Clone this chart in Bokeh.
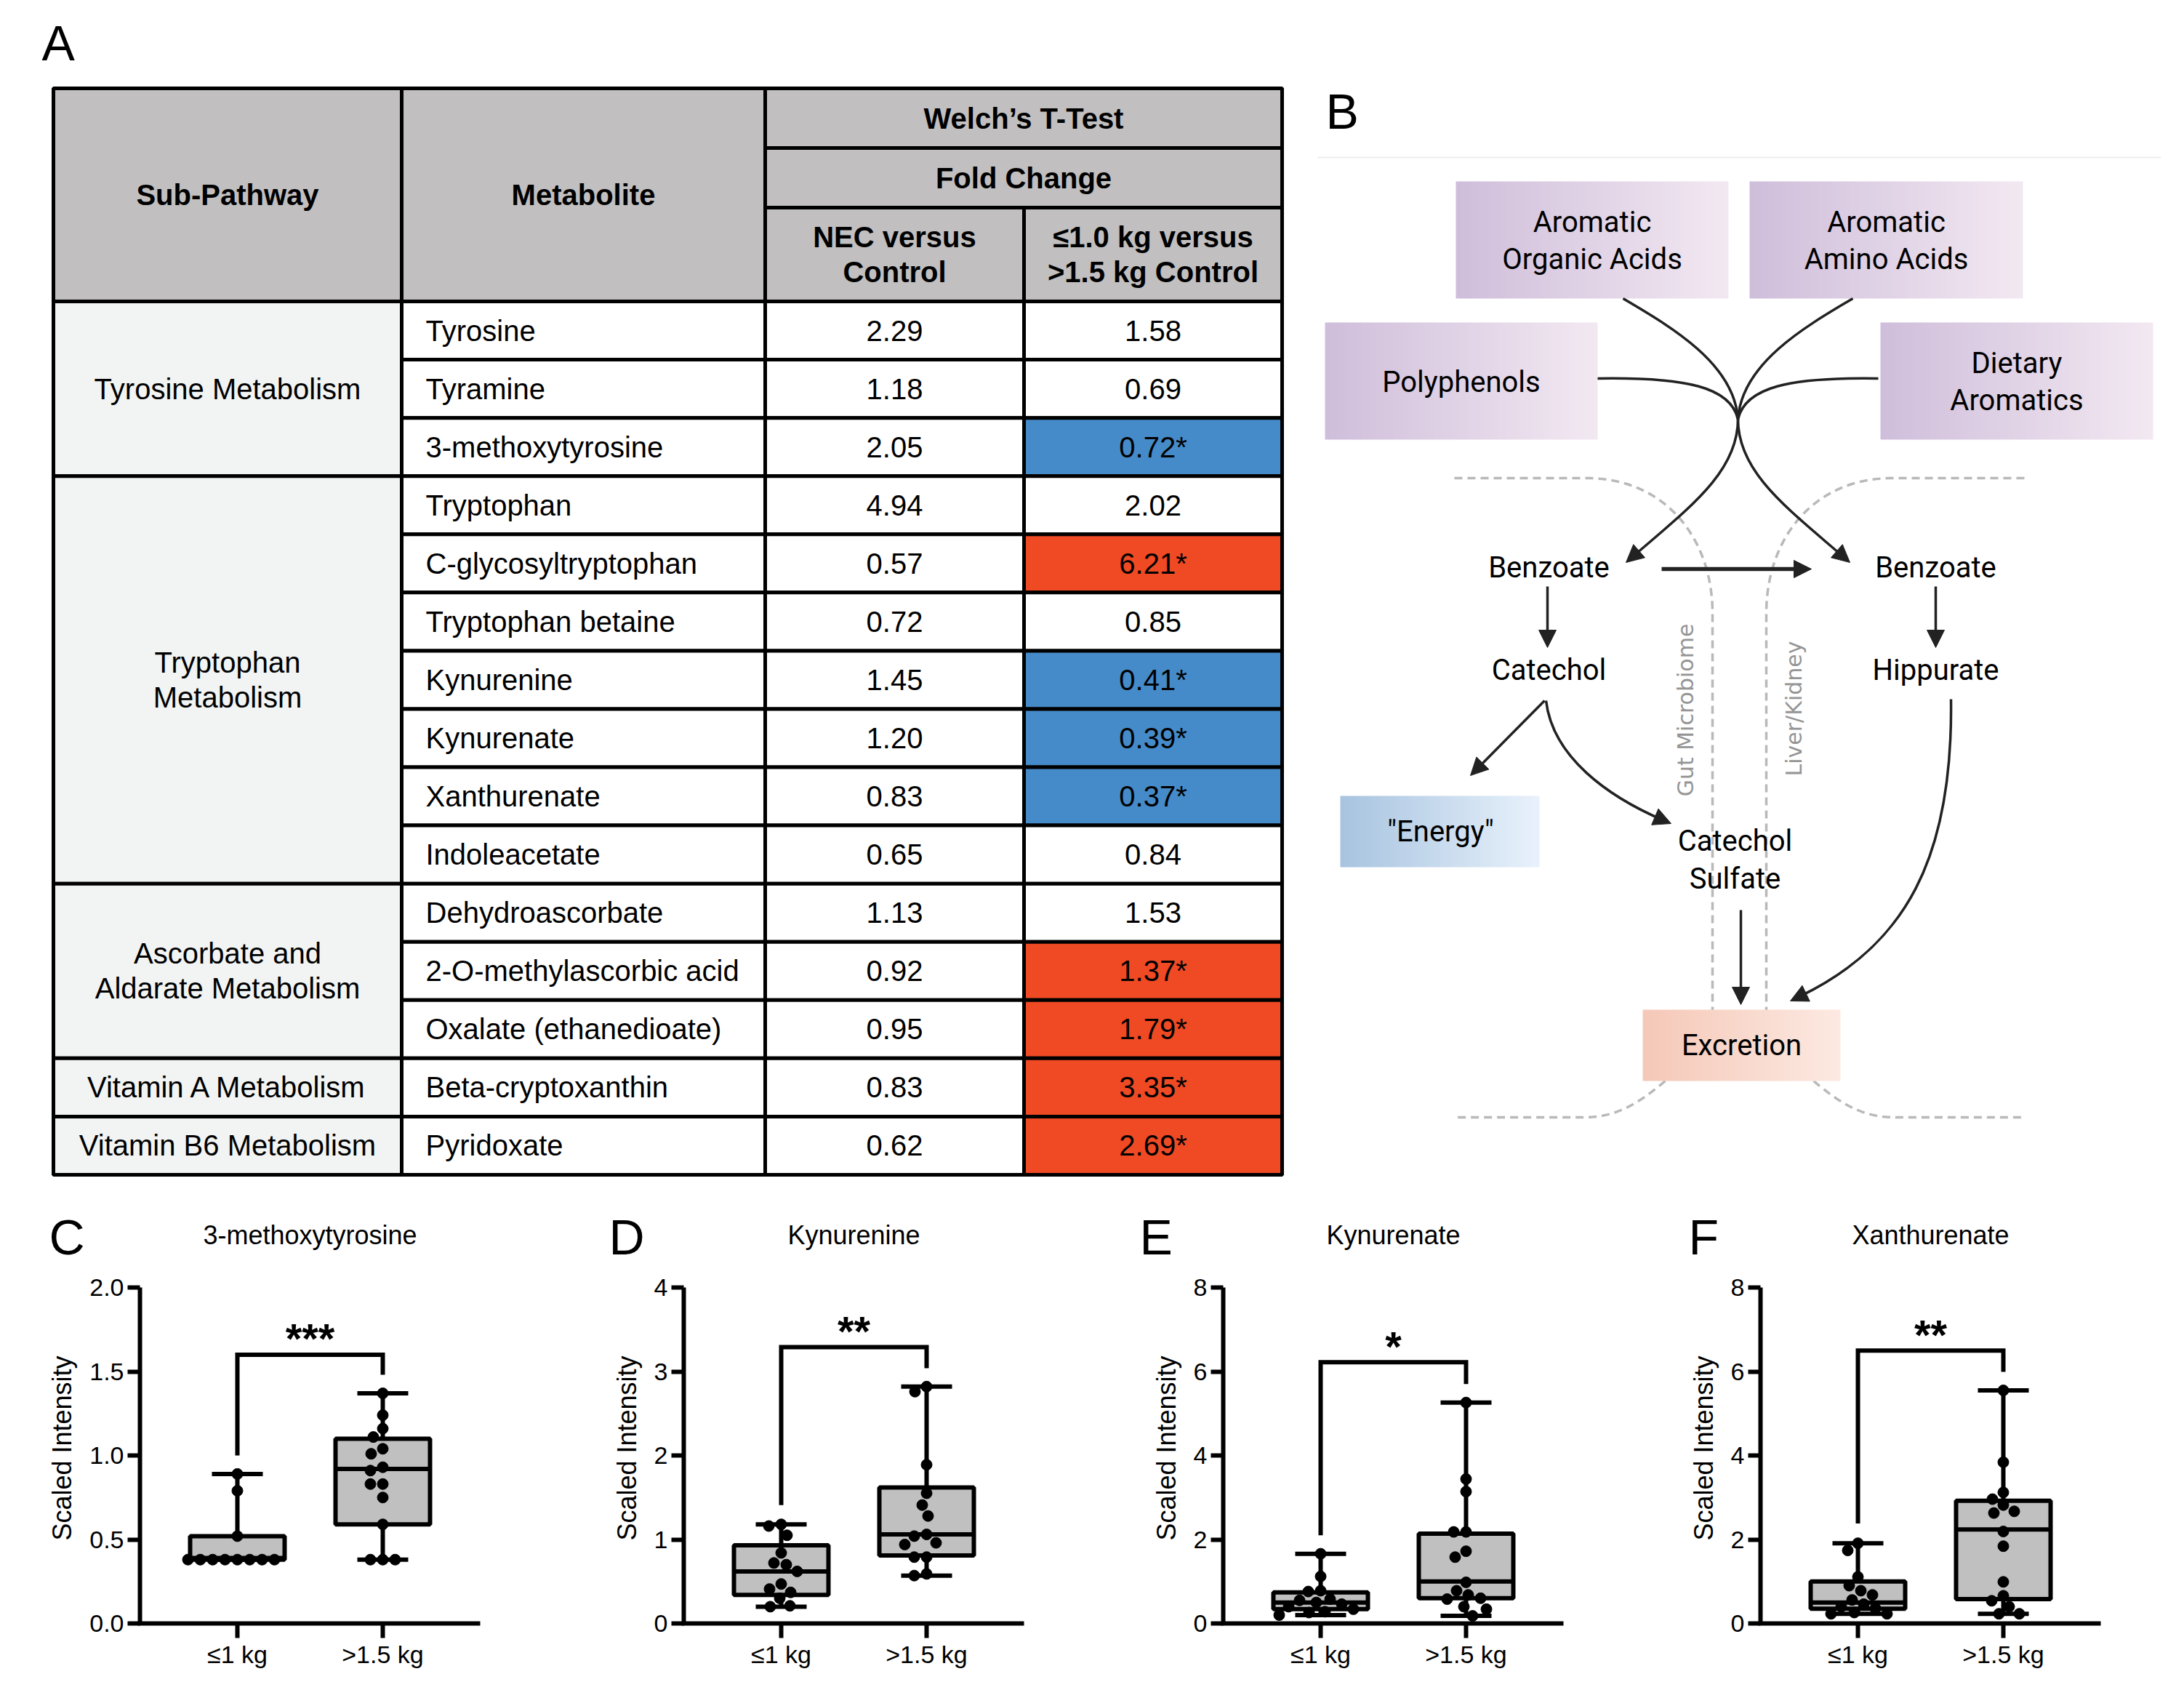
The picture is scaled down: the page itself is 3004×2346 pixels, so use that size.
import numpy as np
from bokeh.plotting import figure
from bokeh.models import Range1d, FixedTicker, Arrow, NormalHead, NumeralTickFormatter
from bokeh.layouts import column, row
from bokeh.embed import file_html
from bokeh.resources import INLINE
from bokeh.core.properties import value

# ===================== DATA =====================
# ---- Panel A: table ----
header_left = ["Sub-Pathway", "Metabolite"]
header_test = "Welch\u2019s T-Test"
header_fold = "Fold Change"
header_comparisons = ["NEC versus\nControl", "\u22641.0 kg versus\n>1.5 kg Control"]
sub_pathways = ["Tyrosine Metabolism", "Tryptophan\nMetabolism",
                "Ascorbate and\nAldarate Metabolism", "Vitamin A Metabolism",
                "Vitamin B6 Metabolism"]
sub_pathway_sizes = [3, 7, 3, 1, 1]
metabolites = ["Tyrosine", "Tyramine", "3-methoxytyrosine", "Tryptophan",
               "C-glycosyltryptophan", "Tryptophan betaine", "Kynurenine",
               "Kynurenate", "Xanthurenate", "Indoleacetate", "Dehydroascorbate",
               "2-O-methylascorbic acid", "Oxalate (ethanedioate)",
               "Beta-cryptoxanthin", "Pyridoxate"]
fc_nec_vs_control = [2.29, 1.18, 2.05, 4.94, 0.57, 0.72, 1.45, 1.20, 0.83, 0.65,
                     1.13, 0.92, 0.95, 0.83, 0.62]
fc_lbw_vs_control = [1.58, 0.69, 0.72, 2.02, 6.21, 0.85, 0.41, 0.39, 0.37, 0.84,
                     1.53, 1.37, 1.79, 3.35, 2.69]
fc_lbw_significant = [False, False, True, False, True, False, True, True, True, False,
                      False, True, True, True, True]

# ---- Panel B: pathway diagram labels ----
source_labels = ["Aromatic\nOrganic Acids", "Aromatic\nAmino Acids", "Polyphenols",
                 "Dietary\nAromatics"]
node_labels = ["Benzoate", "Benzoate", "Catechol", "Hippurate", "Catechol\nSulfate"]
energy_label = "\"Energy\""
excretion_label = "Excretion"
compartment_labels = ["Gut Microbiome", "Liver/Kidney"]

# ---- Panels C-F: box plots ----
panel_letters = ["C", "D", "E", "F"]
panel_titles = ["3-methoxytyrosine", "Kynurenine", "Kynurenate", "Xanthurenate"]
group_labels = ["\u22641 kg", ">1.5 kg"]
y_label = "Scaled Intensity"

mt_low = [0.38, 0.38, 0.38, 0.38, 0.38, 0.38, 0.38, 0.38, 0.52, 0.79, 0.89]
mt_high = [1.37, 1.24, 1.16, 1.11, 1.04, 1.01, 0.93, 0.91, 0.83, 0.83, 0.75, 0.59, 0.38, 0.38, 0.38]
kyn_low = [1.18, 1.16, 1.05, 0.84, 0.72, 0.70, 0.62, 0.47, 0.41, 0.37, 0.30, 0.21, 0.20]
kyn_high = [2.82, 2.76, 1.89, 1.55, 1.41, 1.28, 1.06, 1.04, 0.96, 0.94, 0.79, 0.79, 0.59, 0.57]
kna_low = [1.66, 1.12, 0.78, 0.76, 0.58, 0.55, 0.50, 0.46, 0.40, 0.34, 0.28, 0.26, 0.20]
kna_high = [5.26, 3.44, 3.14, 2.18, 2.18, 1.72, 1.58, 0.98, 0.78, 0.68, 0.60, 0.58, 0.40, 0.34, 0.18]
xa_low = [1.91, 1.74, 1.11, 0.90, 0.78, 0.68, 0.56, 0.46, 0.40, 0.36, 0.26, 0.23, 0.23]
xa_high = [5.55, 3.84, 3.12, 2.96, 2.82, 2.67, 2.63, 2.19, 1.84, 0.99, 0.66, 0.54, 0.40, 0.23, 0.23]

# quartiles (q1, median, q3)
mt_box = [(0.38, 0.39, 0.52), (0.59, 0.92, 1.10)]
kyn_box = [(0.34, 0.62, 0.93), (0.81, 1.06, 1.62)]
kna_box = [(0.34, 0.50, 0.74), (0.60, 1.00, 2.14)]
xa_box = [(0.35, 0.50, 1.00), (0.58, 2.24, 2.92)]

y_ticks = [[0, 0.5, 1.0, 1.5, 2.0], [0, 1, 2, 3, 4], [0, 2, 4, 6, 8], [0, 2, 4, 6, 8]]
# significance brackets: (top, left leg end, right leg end)
brackets = [(1.60, 1.00, 1.48), (3.29, 1.41, 3.04), (6.22, 2.10, 5.70), (6.50, 2.38, 5.99)]
stars = ["***", "**", "*", "**"]

panel_groups = [(mt_low, mt_high), (kyn_low, kyn_high), (kna_low, kna_high), (xa_low, xa_high)]
panel_boxes = [mt_box, kyn_box, kna_box, xa_box]

# ===================== STYLE / LAYOUT =====================
FONT = "Liberation Sans"
DFONT = "Roboto"
INK = "#222222"
TOTAL_W = 2988
TOTAL_H = 2330
TOP_H = 1750
BOT_H = TOTAL_H - TOP_H

def lerp_colors(c0, c1, n):
    out = []
    for k in range(n):
        t = k / (n - 1)
        r, g, b = [int(round(a + (bb - a) * t)) for a, bb in zip(c0, c1)]
        out.append("#%02x%02x%02x" % (r, g, b))
    return out

def bez(p0, p1, p2, p3, n=60):
    t = np.linspace(0, 1, n)[:, None]
    P = ((1 - t) ** 3) * np.array(p0) + 3 * ((1 - t) ** 2) * t * np.array(p1) \
        + 3 * (1 - t) * t ** 2 * np.array(p2) + t ** 3 * np.array(p3)
    return P[:, 0], P[:, 1]

# ===================== TOP FIGURE (A + B + panel headings) =====================
top = figure(width=TOTAL_W, height=TOP_H, x_range=Range1d(0, TOTAL_W),
             y_range=Range1d(TOP_H, 0), output_backend="svg",
             toolbar_location=None, min_border=0, x_axis_location=None,
             y_axis_location=None)
top.grid.visible = False
top.outline_line_color = None

def ttext(x, y, s, size="40px", align="center", baseline="middle", style="normal",
          font=FONT, color="black", angle=0.0, lh=1.1):
    top.text(x=[x], y=[y], text=[s], text_font=value(font), text_font_size=size,
             text_align=align, text_baseline=baseline, text_font_style=style,
             text_color=color, angle=angle, text_line_height=lh)

# ---- table ----
col_x = [73, 552, 1052, 1408, 1763]
hdr_y = [121, 203, 285, 414]
tbl_bottom = 1615
n_rows = len(metabolites)
row_h = (tbl_bottom - hdr_y[3]) / n_rows
HDR = "#c1bfc0"
SUB = "#f2f4f3"
BLUE = "#468bc9"
RED = "#ef4a24"
LW = 5

hl = [col_x[0], col_x[1], col_x[2], col_x[2], col_x[2], col_x[3]]
hr = [col_x[1], col_x[2], col_x[4], col_x[4], col_x[3], col_x[4]]
ht = [hdr_y[0], hdr_y[0], hdr_y[0], hdr_y[1], hdr_y[2], hdr_y[2]]
hb = [hdr_y[3], hdr_y[3], hdr_y[1], hdr_y[2], hdr_y[3], hdr_y[3]]
top.quad(left=hl, right=hr, top=ht, bottom=hb, fill_color=HDR, line_color="black", line_width=LW)

starts = np.cumsum([0] + sub_pathway_sizes[:-1])
sp_t = [hdr_y[3] + s * row_h for s in starts]
sp_b = [hdr_y[3] + (s + n) * row_h for s, n in zip(starts, sub_pathway_sizes)]
top.quad(left=col_x[0], right=col_x[1], top=sp_t, bottom=sp_b, fill_color=SUB,
         line_color="black", line_width=LW)

rt = [hdr_y[3] + i * row_h for i in range(n_rows)]
rb = [hdr_y[3] + (i + 1) * row_h for i in range(n_rows)]
for c in (1, 2):
    top.quad(left=col_x[c], right=col_x[c + 1], top=rt, bottom=rb, fill_color="white",
             line_color="black", line_width=LW)
fold_colors = [(BLUE if v < 1 else RED) if s else "white"
               for v, s in zip(fc_lbw_vs_control, fc_lbw_significant)]
top.quad(left=col_x[3], right=col_x[4], top=rt, bottom=rb, fill_color=fold_colors,
         line_color="black", line_width=LW)
top.quad(left=col_x[0], right=col_x[4], top=hdr_y[0], bottom=tbl_bottom, fill_color=None,
         line_color="black", line_width=LW)

ttext((col_x[0] + col_x[1]) / 2, (hdr_y[0] + hdr_y[3]) / 2, header_left[0], style="bold")
ttext((col_x[1] + col_x[2]) / 2, (hdr_y[0] + hdr_y[3]) / 2, header_left[1], style="bold")
ttext((col_x[2] + col_x[4]) / 2, (hdr_y[0] + hdr_y[1]) / 2, header_test, style="bold")
ttext((col_x[2] + col_x[4]) / 2, (hdr_y[1] + hdr_y[2]) / 2, header_fold, style="bold")
ttext((col_x[2] + col_x[3]) / 2, (hdr_y[2] + hdr_y[3]) / 2, header_comparisons[0], style="bold")
ttext((col_x[3] + col_x[4]) / 2, (hdr_y[2] + hdr_y[3]) / 2, header_comparisons[1], style="bold")

rc = [(a + b) / 2 for a, b in zip(rt, rb)]
top.text(x=[col_x[1] + 33] * n_rows, y=rc, text=metabolites, text_font=value(FONT),
         text_font_size="40px", text_align="left", text_baseline="middle")
top.text(x=[(col_x[2] + col_x[3]) / 2] * n_rows, y=rc,
         text=["%.2f" % v for v in fc_nec_vs_control], text_font=value(FONT),
         text_font_size="40px", text_align="center", text_baseline="middle")
top.text(x=[(col_x[3] + col_x[4]) / 2] * n_rows, y=rc,
         text=["%.2f%s" % (v, "*" if s else "") for v, s in zip(fc_lbw_vs_control, fc_lbw_significant)],
         text_font=value(FONT), text_font_size="40px", text_align="center", text_baseline="middle")
top.text(x=[(col_x[0] + col_x[1]) / 2] * len(sub_pathways), y=[(a + b) / 2 for a, b in zip(sp_t, sp_b)],
         text=sub_pathways, text_font=value(FONT), text_font_size="40px",
         text_align="center", text_baseline="middle", text_line_height=1.1)

ttext(57, 58, "A", size="68px", align="left")
ttext(1823, 152, "B", size="68px", align="left")

# ---- diagram ----
top.line(x=[1812, 2972], y=[216, 216], line_color="#eeeeee", line_width=2)

MIRX = 4784
lx1, ly1 = bez((2182, 657), (2290, 657), (2355, 740), (2355, 843))
left_top_x = np.concatenate([[2000], lx1, [2355]])
left_top_y = np.concatenate([[657], ly1, [1392]])
lx2, ly2 = bez((2290, 1486), (2255, 1515), (2225, 1536), (2178, 1536))
left_bot_x = np.concatenate([lx2, [2000]])
left_bot_y = np.concatenate([ly2, [1536]])
DASH_C = "#b9b9b9"
for xs, ys in [(left_top_x, left_top_y), (left_bot_x, left_bot_y)]:
    top.line(x=xs, y=ys, line_color=DASH_C, line_width=3.5, line_dash="11 7")
    top.line(x=MIRX - xs, y=ys, line_color=DASH_C, line_width=3.5, line_dash="11 7")

PURPLE = ((207, 190, 219), (242, 232, 241))
BLUEG = ((168, 196, 224), (232, 241, 251))
PEACH = ((245, 200, 184), (252, 233, 225))

def gradient_box(x0, y0, x1, y1, cols, n=60):
    edges = np.linspace(x0, x1, n + 1)
    top.quad(left=edges[:-1], right=np.minimum(edges[1:] + 0.8, x1), top=y0, bottom=y1,
             fill_color=lerp_colors(cols[0], cols[1], n), line_color=None)

src_boxes = [(2002, 249, 2377, 410), (2406, 249, 2782, 410), (1822, 443, 2197, 604),
             (2586, 443, 2961, 604)]
for (x0, y0, x1, y1), lab in zip(src_boxes, source_labels):
    gradient_box(x0, y0, x1, y1, PURPLE)
    ttext((x0 + x1) / 2, (y0 + y1) / 2 + 1, lab, font=DFONT)
gradient_box(1843, 1094, 2117, 1192, BLUEG)
ttext(1981, 1143, energy_label, font=DFONT)
gradient_box(2259, 1388, 2531, 1486, PEACH)
ttext(2395, 1437, excretion_label, font=DFONT)

node_xy = [(2130, 780), (2662, 780), (2130, 921), (2662, 921), (2386, 1182)]
for (x, y), lab in zip(node_xy, node_labels):
    ttext(x, y, lab, font=DFONT)

ttext(2318, 976, compartment_labels[0], size="30px", font="DejaVu Sans", color="#959595",
      angle=np.pi / 2)
ttext(2467, 974, compartment_labels[1], size="30px", font="DejaVu Sans", color="#959595",
      angle=np.pi / 2)

C = (2390, 576)
curves = [((2232, 410), (2300, 450), (2385, 500), C),
          ((2197, 520), (2320, 518), (2380, 532), C)]
for p0, p1, p2, p3 in curves:
    top.bezier(x0=[p0[0], MIRX - 4 - p0[0]], y0=[p0[1]] * 2, x1=[p3[0], MIRX - 4 - p3[0]], y1=[p3[1]] * 2,
               cx0=[p1[0], MIRX - 4 - p1[0]], cy0=[p1[1]] * 2, cx1=[p2[0], MIRX - 4 - p2[0]], cy1=[p2[1]] * 2,
               line_color=INK, line_width=3.5)

def head(xt, yt, dx, dy, size=24):
    L = np.hypot(dx, dy)
    ux, uy = dx / L, dy / L
    top.add_layout(Arrow(end=NormalHead(size=size, fill_color=INK, line_color=INK, line_width=1),
                         x_start=xt - ux * 6, y_start=yt - uy * 6, x_end=xt, y_end=yt,
                         line_alpha=0.0))

def curved_arrow(p0, p1, p2, p3, lw=3.5):
    top.bezier(x0=[p0[0]], y0=[p0[1]], x1=[p3[0] - (p3[0] - p2[0]) * 0.08],
               y1=[p3[1] - (p3[1] - p2[1]) * 0.08], cx0=[p1[0]], cy0=[p1[1]],
               cx1=[p2[0]], cy1=[p2[1]], line_color=INK, line_width=lw)
    head(p3[0], p3[1], p3[0] - p2[0], p3[1] - p2[1])

curved_arrow(C, (2390, 650), (2320, 700), (2236, 773))
curved_arrow(C, (2390, 650), (MIRX - 4 - 2320, 700), (MIRX - 4 - 2236, 773))
curved_arrow((2126, 963), (2135, 1040), (2210, 1095), (2298, 1132))
curved_arrow((2683, 961), (2686, 1180), (2620, 1300), (2462, 1376))

def straight_arrow(x0, y0, x1, y1, lw=3.5, size=24):
    top.add_layout(Arrow(end=NormalHead(size=size, fill_color=INK, line_color=INK, line_width=1),
                         x_start=x0, y_start=y0, x_end=x1, y_end=y1, line_color=INK,
                         line_width=lw))

straight_arrow(2285, 782, 2491, 782, lw=5.5)
straight_arrow(2128, 806, 2128, 890)
straight_arrow(2662, 806, 2662, 890)
straight_arrow(2124, 963, 2022, 1066)
straight_arrow(2394, 1251, 2394, 1381)

# ===================== BOTTOM PANELS (C-F) =====================
PANEL_W = TOTAL_W // 4
fig_lefts = [i * PANEL_W for i in range(4)]
axis_xs = [192, 940, 1682, 2421]
letter_xs = [67, 837, 1567, 2322]
Y0_REF = 2232
PX_AXIS = 462     # pixel length of y axis
XPX = 200         # pixels per category unit
CAT1_OFF = 134    # first category offset from y axis (px)
XAXIS_LEN = 465

for i in range(4):
    cmid = axis_xs[i] + CAT1_OFF + XPX / 2
    ttext(cmid, 1698, panel_titles[i], size="36px")
    ttext(letter_xs[i], 1700, panel_letters[i], size="68px", align="left")

def beeswarm(vals, ypx, diam=17.0):
    vals = np.asarray(vals, float)
    order = np.argsort(-vals, kind="stable")
    cands = sorted(range(-220, 221), key=lambda c: (abs(c), c))
    placed = []
    offs = np.zeros(len(vals))
    for i in order:
        y = vals[i] * ypx
        for c in cands:
            if all((c - px) ** 2 + (y - py) ** 2 >= diam ** 2 for px, py in placed):
                offs[i] = c
                placed.append((c, y))
                break
    return offs / XPX

panels = []
for i in range(4):
    mbl = axis_xs[i] - fig_lefts[i]
    fw = PANEL_W - mbl
    mbb = TOTAL_H - Y0_REF
    fh = BOT_H - mbb
    ymax = y_ticks[i][-1]
    ypx = PX_AXIS / ymax
    xs0 = 1 - CAT1_OFF / XPX
    p = figure(width=PANEL_W, height=BOT_H, x_range=Range1d(xs0, xs0 + fw / XPX),
               y_range=Range1d(0, fh / ypx), output_backend="svg", toolbar_location=None,
               min_border_left=mbl, min_border_right=0, min_border_top=0,
               min_border_bottom=mbb)
    p.grid.visible = False
    p.outline_line_color = None
    for ax in (p.xaxis[0], p.yaxis[0]):
        ax.axis_line_width = 6
        ax.axis_line_color = "black"
        ax.major_tick_line_width = 6
        ax.major_tick_line_color = "black"
        ax.major_tick_in = 0
        ax.minor_tick_line_color = None
        ax.major_label_text_font = FONT
        ax.major_label_text_font_size = "34px"
        ax.major_label_text_color = "black"
    p.xaxis.ticker = FixedTicker(ticks=[1, 2])
    p.xaxis.major_label_overrides = {1: group_labels[0], 2: group_labels[1]}
    p.xaxis.bounds = (xs0, xs0 + XAXIS_LEN / XPX)
    p.xaxis.major_tick_out = 20
    p.xaxis.major_label_standoff = 3
    p.xaxis.axis_line_cap = "square"
    p.yaxis.ticker = FixedTicker(ticks=y_ticks[i])
    p.yaxis.bounds = (0, ymax)
    p.yaxis.major_tick_out = 17
    p.yaxis.major_label_standoff = 5
    if i == 0:
        p.yaxis.formatter = NumeralTickFormatter(format="0.0")
    p.yaxis.axis_label = y_label
    p.yaxis.axis_label_text_font = FONT
    p.yaxis.axis_label_text_font_size = "36px"
    p.yaxis.axis_label_text_font_style = "normal"
    p.yaxis.axis_label_text_color = "black"
    p.yaxis.axis_label_standoff = 14

    for g, (vals, (q1, med, q3)) in enumerate(zip(panel_groups[i], panel_boxes[i])):
        cx = g + 1
        vmin, vmax = min(vals), max(vals)
        p.segment(x0=[cx, cx], y0=[q3, q1], x1=[cx, cx], y1=[vmax, vmin], line_color="black",
                  line_width=6)
        p.segment(x0=[cx - 0.175, cx - 0.175], y0=[vmax, vmin], x1=[cx + 0.175, cx + 0.175],
                  y1=[vmax, vmin], line_color="black", line_width=6)
        p.quad(left=[cx - 0.325], right=[cx + 0.325], bottom=[q1], top=[q3],
               fill_color="#c0c0c0", line_color="black", line_width=6)
        p.segment(x0=[cx - 0.325], y0=[med], x1=[cx + 0.325], y1=[med], line_color="black",
                  line_width=6)
        offs = beeswarm(vals, ypx)
        p.scatter(x=cx + offs, y=vals, size=15, color="black", marker="circle")

    btop, bl, br = brackets[i]
    p.line(x=[1, 1, 2, 2], y=[bl, btop, btop, br], line_color="black", line_width=6,
           line_join="miter")
    p.text(x=[1.5], y=[btop + 22 / ypx], text=[stars[i]], text_font=value(FONT),
           text_font_size="58px", text_font_style="bold", text_align="center",
           text_baseline="middle")
    panels.append(p)

layout = column(top, row(*panels, spacing=0), spacing=0)
open("out.html", "w").write(file_html(layout, INLINE))
